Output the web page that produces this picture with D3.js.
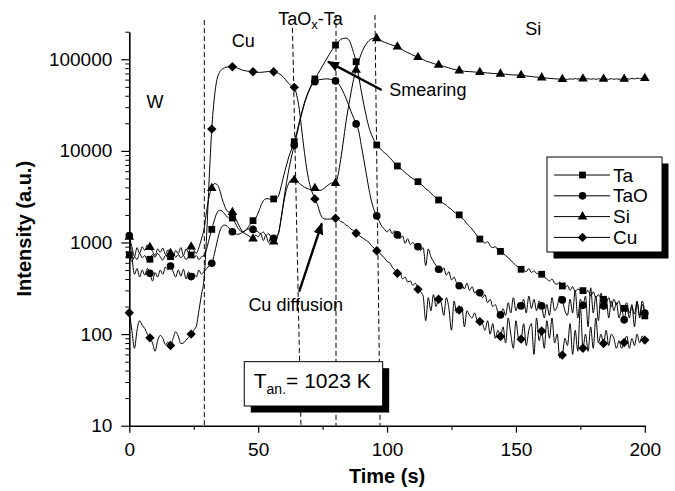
<!DOCTYPE html>
<html>
<head>
<meta charset="utf-8">
<script src="https://cdn.jsdelivr.net/npm/d3@7"></script>
<style>
  body { margin: 0; background: #fff; }
  text { font-family: "Liberation Sans", Arial, Helvetica, sans-serif; fill: #000; }
</style>
</head>
<body>
<svg id="chart" width="675" height="491"></svg>
<script>
// SIMS depth profile, one reading per second from t = 0 to 200 s
const ta = [
  731,620,700,650,760,680,720,640,656,740,
  690,760,700,640,720,680,700,760,690,740,
  680,720,650,700,731,680,720,650,700,720,
  850,1100,1390,1750,2100,2250,2200,2050,1900,1850,
  1850,1650,1450,1350,1300,1350,1450,1600,1730,1850,
  2100,2500,2850,3000,3000,2950,2990,3000,3300,4200,
  5500,7000,8800,10500,12600,16000,21000,27000,34000,41000,
  48000,55000,61000,68000,76000,85000,95000,106000,118000,131000,
  143000,155000,164000,169000,170000,165000,145000,118000,94000,65000,
  45000,32000,23500,18000,15000,13000,11600,10800,10200,9500,
  9100,8400,7900,7300,6840,6500,6150,5800,5500,5200,
  5000,4750,4610,4350,4150,3850,3700,3450,3250,3050,
  2910,2780,2650,2550,2400,2300,2150,2080,2000,1850,
  1750,1600,1500,1400,1280,1180,1090,1050,980,1020,
  920,880,900,830,800,760,720,680,640,600,
  560,540,510,500,480,520,470,490,460,455,
  450,420,400,380,400,360,350,370,335,320,
  340,300,330,290,310,300,298,280,300,260,
  290,250,270,245,240,220,250,200,240,210,
  230,180,191,220,170,200,165,230,150,210,
  158
];
const taO = [
  1190,700,450,520,420,500,440,520,461,380,
  470,420,500,450,540,500,554,480,420,500,
  430,510,400,480,424,460,420,500,450,480,
  520,560,593,750,1000,1300,1500,1550,1500,1400,
  1310,1250,1230,1250,1300,1350,1400,1400,1390,1350,
  1300,1250,1300,1200,1250,1150,1110,1150,1300,1900,
  3000,4500,6500,8800,11500,15000,20000,26000,33000,40000,
  47000,53000,57000,59000,60000,60500,61000,61000,60500,59500,
  58000,55000,50000,44000,38000,32000,27000,23000,19700,16500,
  11500,8000,5500,3800,2800,2250,1950,1700,1500,1400,
  1300,1400,1250,1350,1210,1100,1180,980,1100,950,
  1000,920,900,820,880,560,850,700,620,560,
  510,470,530,440,480,390,420,360,337,350,
  310,360,300,330,280,300,283,250,270,220,
  240,200,210,175,162,190,160,220,170,250,
  180,220,203,240,170,260,190,240,180,230,
  203,150,210,160,250,180,200,260,236,180,
  160,240,170,300,150,240,206,260,120,320,
  170,260,140,280,203,250,150,230,180,220,
  150,190,143,200,150,210,120,220,160,230,
  170
];
const si = [
  1150,900,700,880,760,900,820,940,887,800,
  720,850,780,870,740,830,762,700,820,760,
  880,720,850,780,900,830,760,880,1100,1400,
  2200,3200,3900,4400,4300,3800,3000,2500,2200,2150,
  2140,1900,1650,1450,1300,1250,1200,1150,1100,1200,
  1150,1250,1050,1200,1000,1150,1020,1080,1300,1900,
  2800,3800,4500,4900,4810,4700,4400,4200,4000,3900,
  3800,3800,3900,3800,3700,3800,4000,4200,4400,4500,
  4430,5500,8000,12500,20000,30000,43000,60000,76400,95000,
  115000,133000,148000,160000,167000,170000,169000,165000,158000,153000,
  150000,146000,143000,140000,137000,132000,127000,122000,118000,115000,
  111000,108000,105000,102000,99000,96000,94000,92000,90000,88000,
  86700,85000,83500,82000,80500,79000,77500,76300,75200,74800,
  74000,73500,73400,73000,72600,72300,72100,71600,71300,70800,
  70500,70000,69800,69500,69200,68900,68500,68200,67800,67500,
  67300,67100,66900,66300,65800,65200,64800,64200,63800,63400,
  63000,62600,62300,61900,61600,61200,61000,60800,60500,61000,
  60200,61200,60600,61500,60800,61300,61400,60700,61500,60500,
  61200,60400,61300,60600,60800,61200,60300,61400,60500,61200,
  60400,61000,60800,61500,60700,61800,61000,62300,61500,62400,
  62000
];
const cu = [
  171,110,70,110,140,125,115,100,91,80,
  65,85,97,90,77,82,75,90,106,95,
  79,80,86,92,100,110,122,180,270,400,
  1200,5000,17300,38000,60000,72000,78000,81000,82500,83000,
  83000,82000,80000,78000,76000,75000,74000,73500,73000,72500,
  72000,72000,72500,73000,73500,73500,73000,72000,70000,67000,
  63000,58000,54000,51000,49400,40000,28000,16000,9400,6000,
  4300,3500,2990,2600,2100,1850,1800,1800,1800,1820,
  1840,1800,1700,1650,1550,1500,1400,1350,1260,1200,
  1150,1100,1050,1000,920,870,813,780,720,680,
  620,600,540,500,461,480,400,420,370,380,
  340,360,308,290,260,140,250,180,270,200,
  240,220,160,250,190,110,230,170,183,200,
  120,180,160,150,170,140,137,130,110,140,
  100,130,90,110,94,120,80,150,100,70,
  140,90,88,130,75,110,130,60,150,85,
  108,70,140,90,150,80,100,55,59,90,
  75,130,60,110,65,200,70,100,65,120,
  70,150,80,100,79,110,75,100,90,70,
  85,70,81,95,70,90,75,100,80,95,
  86
];
const seriesNames = ["Ta", "TaO", "Si", "Cu"];
const markerStep = 8;            // a symbol on every 8th reading
const xTicks = [0, 50, 100, 150, 200];
const xMinorTicks = [25, 75, 125, 175];
const yTicks = [10, 100, 1000, 10000, 100000];
// layer interfaces: time at top end, time at bottom end, intensity at top end
const interfaceTop = [29.1, 63.3, 80.2, 95.3];
const interfaceBottom = [29.1, 66.6, 80.2, 97.3];
const interfaceTopLevel = [268000, 220000, 305000, 305000];

const svg = d3.select("#chart");
const x = d3.scaleLinear().domain([0, 200]).range([129.3, 644.8]);
const y = d3.scaleLog().domain([10, 200000]).range([425.7, 31.7]);

const valuesByName = { Ta: ta, TaO: taO, Si: si, Cu: cu };
const symbolStyle = {
  Ta:  { type: d3.symbolSquare,   size: 46, rot: 0 },
  TaO: { type: d3.symbolCircle,   size: 46, rot: 0 },
  Si:  { type: d3.symbolTriangle, size: 40, rot: 0 },
  Cu:  { type: d3.symbolSquare,   size: 44, rot: 45 }
};

// arrowhead
const defs = svg.append("defs");
defs.append("marker")
  .attr("id", "head").attr("viewBox", "0 0 12 10")
  .attr("refX", 11).attr("refY", 5)
  .attr("markerWidth", 12).attr("markerHeight", 10)
  .attr("markerUnits", "userSpaceOnUse").attr("orient", "auto")
  .append("path").attr("d", "M0,0 L12,5 L0,10 Z").attr("fill", "#000");

// interface boundaries
svg.append("g").selectAll("line")
  .data(d3.range(interfaceTop.length))
  .join("line")
  .attr("x1", i => x(interfaceTop[i]))
  .attr("y1", i => y(interfaceTopLevel[i]))
  .attr("x2", i => x(interfaceBottom[i]))
  .attr("y2", y(10))
  .attr("stroke", "#000").attr("stroke-width", 1)
  .attr("stroke-dasharray", "5,3");

// axes
const axisStyle = g => {
  g.select(".domain").attr("stroke", "#000").attr("stroke-width", 1.6);
  g.selectAll(".tick line").attr("stroke", "#000").attr("stroke-width", 1.2);
  g.selectAll("text").style("font-size", "19px").attr("font-family", null);
};
svg.append("g").attr("transform", `translate(0,${y(10)})`)
  .call(d3.axisBottom(x).tickValues(xMinorTicks).tickSize(4).tickFormat(""))
  .call(g => g.select(".domain").remove())
  .call(g => g.selectAll(".tick line").attr("stroke", "#000").attr("stroke-width", 1.2));
svg.append("g").attr("transform", `translate(0,${y(10)})`)
  .call(d3.axisBottom(x).tickValues(xTicks).tickSize(7).tickSizeOuter(0).tickPadding(10).tickFormat(d3.format("d")))
  .call(axisStyle);

const yMinor = [];
yTicks.forEach(t => { for (let k = 2; k <= 9; k++) if (t * k <= 200000) yMinor.push(t * k); });
svg.append("g").attr("transform", `translate(${x(0)},0)`)
  .call(d3.axisLeft(y).tickValues(yMinor).tickSize(4).tickFormat(""))
  .call(g => g.select(".domain").remove())
  .call(g => g.selectAll(".tick line").attr("stroke", "#000").attr("stroke-width", 1));
svg.append("g").attr("transform", `translate(${x(0)},0)`)
  .call(d3.axisLeft(y).tickValues(yTicks).tickSize(8).tickSizeOuter(0).tickPadding(9).tickFormat(d3.format("d")))
  .call(axisStyle);

// axis titles
svg.append("text")
  .attr("x", (x(0) + x(200)) / 2).attr("y", 483)
  .attr("text-anchor", "middle").style("font-size", "20px").style("font-weight", "bold")
  .text("Time (s)");
svg.append("text")
  .attr("transform", `translate(31,${(y(10) + y(200000)) / 2}) rotate(-90)`)
  .attr("text-anchor", "middle").style("font-size", "20px").style("font-weight", "bold")
  .text("Intensity (a.u.)");

// profiles
const line = d3.line()
  .x((d, i) => x(i))
  .y(d => y(d))
  .curve(d3.curveMonotoneX);

const plot = svg.append("g");
seriesNames.forEach(name => {
  plot.append("path")
    .datum(valuesByName[name])
    .attr("fill", "none").attr("stroke", "#000").attr("stroke-width", 1)
    .attr("stroke-linejoin", "round")
    .attr("d", line);
});
["Si", "Ta", "TaO", "Cu"].forEach(name => {
  const st = symbolStyle[name];
  const pts = valuesByName[name].map((v, i) => ({ t: i, v })).filter(d => d.t % markerStep === 0);
  plot.append("g").selectAll("path")
    .data(pts).join("path")
    .attr("transform", d => `translate(${x(d.t)},${y(d.v)}) rotate(${st.rot})`)
    .attr("d", d3.symbol().type(st.type).size(st.size))
    .attr("fill", "#000");
});

// layer names
const note = (t, v, txt, anchor) => svg.append("text")
  .attr("x", x(t)).attr("y", y(v)).attr("text-anchor", anchor || "start")
  .style("font-size", "18px").text(txt);
note(10, 29200, "W", "middle");
note(44.2, 137000, "Cu", "middle");
note(156.7, 184000, "Si", "middle");
const taox = svg.append("text").attr("x", x(57.8)).attr("y", y(237000)).style("font-size", "18px");
taox.append("tspan").text("TaO");
taox.append("tspan").attr("dy", 4).style("font-size", "13px").text("x");
taox.append("tspan").attr("dy", -4).text("-Ta");

// arrows and their labels
svg.append("line")
  .attr("x1", x(97.9)).attr("y1", y(46200)).attr("x2", x(77.1)).attr("y2", y(94200))
  .attr("stroke", "#000").attr("stroke-width", 2.4).attr("marker-end", "url(#head)");
note(100.9, 39800, "Smearing");
svg.append("line")
  .attr("x1", x(65.9)).attr("y1", y(290)).attr("x2", x(74.7)).attr("y2", y(1620))
  .attr("stroke", "#000").attr("stroke-width", 2.4).attr("marker-end", "url(#head)");
note(46.2, 177, "Cu diffusion");

// annealing temperature box
const bx0 = x(44.6), bx1 = x(98.3), by0 = y(50), by1 = y(16.4);
svg.append("rect").attr("x", bx0 + 6.5).attr("y", by0 + 6.5)
  .attr("width", bx1 - bx0).attr("height", by1 - by0).attr("fill", "#000");
svg.append("rect").attr("x", bx0).attr("y", by0)
  .attr("width", bx1 - bx0).attr("height", by1 - by0)
  .attr("fill", "#fff").attr("stroke", "#000").attr("stroke-width", 1);
const tan = svg.append("text").attr("x", bx0 + 9.5).attr("y", by0 + 26.5).style("font-size", "21px");
tan.append("tspan").text("T");
tan.append("tspan").attr("dy", 6).style("font-size", "14px").text("an.");
tan.append("tspan").attr("dy", -6).text("= 1023 K");

// legend
const lg = { x: 547, y: 157, w: 115, h: 95 };
svg.append("rect").attr("x", lg.x + 6.5).attr("y", lg.y + 6.5)
  .attr("width", lg.w).attr("height", lg.h).attr("fill", "#000");
svg.append("rect").attr("x", lg.x).attr("y", lg.y).attr("width", lg.w).attr("height", lg.h)
  .attr("fill", "#fff").attr("stroke", "#000").attr("stroke-width", 1);
seriesNames.forEach((name, i) => {
  const cy = lg.y + 18 + i * 20.8;
  const st = symbolStyle[name];
  svg.append("line").attr("x1", lg.x + 7).attr("x2", lg.x + 63)
    .attr("y1", cy).attr("y2", cy).attr("stroke", "#000").attr("stroke-width", 1);
  svg.append("path")
    .attr("transform", `translate(${lg.x + 35.5},${cy}) rotate(${st.rot})`)
    .attr("d", d3.symbol().type(st.type).size(st.size)).attr("fill", "#000");
  svg.append("text").attr("x", lg.x + 66).attr("y", cy + 6.5)
    .style("font-size", "19px").text(name);
});
</script>
</body>
</html>
